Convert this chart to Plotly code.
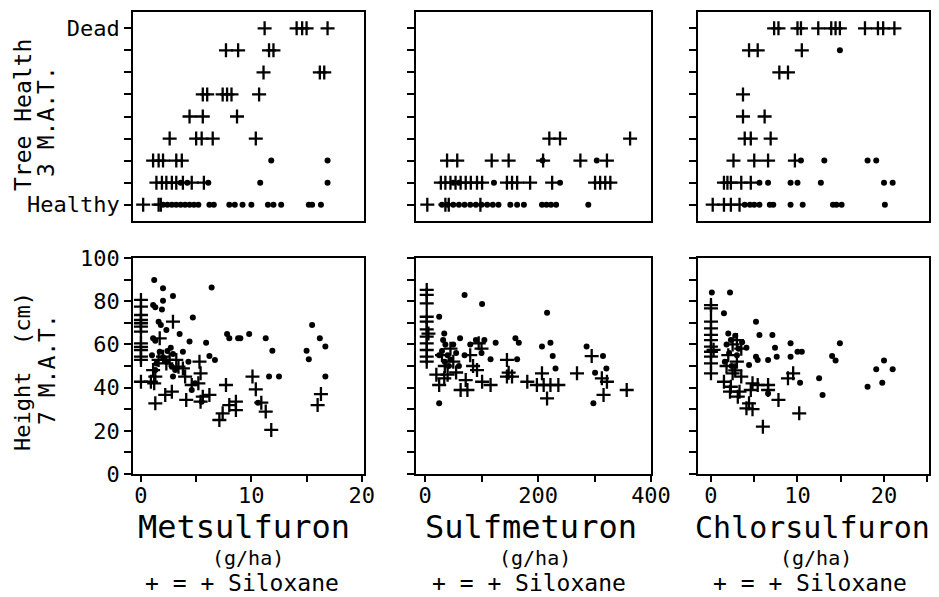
import plotly.graph_objects as go

# ---------------- DATA ----------------
herbicides = ["Metsulfuron", "Sulfmeturon", "Chlorsulfuron"]
health_labels = ["Healthy", "", "", "", "", "", "", "", "Dead"]

# Tree health 3 M.A.T. (0 = Healthy ... 8 = Dead)
met_h_sil_x = [11.2, 14.1, 14.6, 15.0, 16.9, 7.7, 8.8, 11.6, 12.0, 11.1, 16.2, 16.6,
               5.6, 6.0, 7.4, 7.8, 8.2, 10.7, 4.4, 5.6, 8.7, 2.6, 5.0, 5.5, 6.5, 10.4,
               1.1, 1.6, 2.0, 3.2, 3.7, 1.4, 1.9, 2.3, 2.8, 3.2, 3.8, 4.6, 5.7, 0.2, 1.6, 1.8]
met_h_sil_y = [8, 8, 8, 8, 8, 7, 7, 7, 7, 6, 6, 6,
               5, 5, 5, 5, 5, 5, 4, 4, 4, 3, 3, 3, 3, 3,
               2, 2, 2, 2, 2, 1, 1, 1, 1, 1, 1, 1, 1, 0, 0, 0]
met_h_no_x = [11.8, 16.9, 3.6, 4.2, 6.1, 10.8, 16.9,
              2.0, 2.4, 2.8, 3.2, 3.6, 4.0, 4.4, 4.8, 5.2, 6.2, 6.6, 8.0, 8.5, 9.2, 10.0,
              11.5, 12.0, 12.7, 15.2, 15.5, 16.3]
met_h_no_y = [2, 2, 1, 1, 1, 1, 1,
              0, 0, 0, 0, 0, 0, 0, 0, 0, 0, 0, 0, 0, 0, 0,
              0, 0, 0, 0, 0, 0]

sul_h_sil_x = [220, 239, 363, 39, 57, 118, 148, 209, 275, 322,
               28, 36, 45, 54, 63, 72, 81, 92, 101, 145, 154, 163, 186, 225, 301, 310, 319, 328,
               4, 36, 42, 98]
sul_h_sil_y = [3, 3, 3, 2, 2, 2, 2, 2, 2, 2,
               1, 1, 1, 1, 1, 1, 1, 1, 1, 1, 1, 1, 1, 1, 1, 1, 1, 1,
               0, 0, 0, 0]
sul_h_no_x = [304, 208, 50, 60, 122, 239,
              30, 40, 50, 60, 70, 80, 90, 100, 110, 120, 130, 151, 163, 175, 207, 215, 223, 232, 289]
sul_h_no_y = [2, 2, 1, 1, 1, 1,
              0, 0, 0, 0, 0, 0, 0, 0, 0, 0, 0, 0, 0, 0, 0, 0, 0, 0, 0]

chl_h_sil_x = [7.3, 7.8, 10.0, 10.4, 12.4, 13.9, 14.4, 14.9, 17.8, 19.3, 19.9, 21.2,
               4.4, 5.4, 10.5, 7.9, 8.9, 3.7, 3.7, 6.2, 3.9, 4.6, 6.9,
               2.6, 5.0, 6.6, 9.7, 1.5, 1.9, 2.3, 3.5, 4.6, 0.2, 1.5, 2.3, 3.3]
chl_h_sil_y = [8, 8, 8, 8, 8, 8, 8, 8, 8, 8, 8, 8,
               7, 7, 7, 6, 6, 5, 4, 4, 3, 3, 3,
               2, 2, 2, 2, 1, 1, 1, 1, 1, 0, 0, 0, 0]
chl_h_no_x = [14.9, 10.4, 13.1, 18.1, 19.1, 5.6, 6.6, 9.2, 10.0, 12.7, 20.0, 21.0,
              3.9, 4.5, 5.0, 5.6, 6.8, 7.2, 9.2, 10.6, 14.1, 14.5, 15.1, 20.1]
chl_h_no_y = [7, 2, 2, 2, 2, 1, 1, 1, 1, 1, 1, 1,
              0, 0, 0, 0, 0, 0, 0, 0, 0, 0, 0, 0]

# Height (cm) 7 M.A.T.
met_ht_sil_x = [0, 0, 0, 0, 0, 0, 0, 0, 0, 0, 0, 0, 0, 0.9,
                2.9, 1.7, 1.1, 1.3, 1.2, 1.3, 1.6, 2.0, 2.3, 2.6, 3.2, 3.4, 3.8, 4.0,
                2.2, 2.8, 4.1, 4.6, 5.3, 5.4, 5.2, 5.4, 5.6, 6.2, 7.7, 7.4, 7.1,
                8.0, 8.6, 8.6, 10.1, 10.4, 10.9, 11.3, 11.8, 16.3, 16.0]
met_ht_sil_y = [80.6, 77.5, 73.6, 71.3, 69.8, 68.2, 65.9, 60.5, 58.9, 57.4, 54.3, 52.8, 42.7, 42.7,
                70.5, 62.8, 48.1, 45.1, 42.0, 32.7, 52.8, 54.3, 51.2, 52.8, 52.8, 49.7, 48.9, 45.1,
                36.6, 38.1, 34.3, 41.2, 52.0, 46.6, 42.0, 33.5, 35.8, 36.6, 41.2, 28.1, 25.0,
                31.9, 33.5, 29.6, 45.1, 39.2, 33.0, 28.9, 20.4, 37.0, 31.9]
met_ht_no_x = [1.2, 2.0, 2.0, 2.9, 1.1, 1.3, 1.9, 6.4, 4.7, 1.6, 1.8, 2.3, 3.5, 1.1, 1.3,
               4.4, 5.9, 7.8, 8.0, 8.8, 9.0, 9.8, 11.3, 11.9, 15.5, 16.2, 16.7, 15.0, 15.2,
               16.7, 11.6, 12.5, 10.6, 6.2, 6.7, 3.8, 4.3, 2.7, 2.9, 2.0, 2.3, 2.8, 3.1,
               1.7, 4.6, 4.9, 5.5, 1.4, 1.3, 2.9, 1.0, 2.4]
met_ht_no_y = [89.8, 86.0, 80.2, 82.4, 78.2, 77.2, 76.2, 86.4, 72.5, 70.5, 69.0, 66.7, 64.8, 62.8, 61.7,
               61.3, 60.8, 64.8, 62.8, 62.8, 62.8, 64.8, 62.8, 57.1, 69.0, 62.8, 59.0, 57.1, 53.1,
               45.1, 45.1, 45.1, 33.0, 54.6, 52.8, 56.6, 52.0, 58.5, 55.6, 54.0, 52.0, 49.7, 48.1,
               56.6, 38.9, 42.0, 33.5, 51.2, 48.1, 45.1, 55.0, 57.0]

sul_ht_sil_x = [3, 3, 3, 3, 3, 3, 3, 3, 3, 3, 3, 6,
                25, 34, 30, 35, 45, 50, 55, 63, 75, 72, 92, 95, 101, 116, 80, 85, 100,
                145, 148, 145, 154, 181, 207, 198, 210, 222, 236, 216, 269, 295, 313, 322,
                316, 357, 20, 40]
sul_ht_sil_y = [85.2, 82.9, 79.0, 72.8, 70.5, 67.0, 63.6, 60.5, 57.4, 54.3, 52.0, 65.0,
                41.2, 44.3, 55.0, 50.0, 58.0, 52.0, 47.0, 38.9, 38.9, 43.5, 48.1, 60.5, 42.7, 41.2, 55.0, 50.0, 58.0,
                52.8, 46.9, 45.1, 45.1, 42.7, 46.6, 41.2, 41.2, 41.2, 41.2, 35.0, 46.6, 54.6, 44.3, 42.7,
                36.6, 38.9, 46.0, 46.0]
sul_ht_no_x = [25, 70, 101, 216, 25, 298, 125, 116, 160, 166, 163, 207, 222, 226, 231, 286,
               315, 301, 321, 62, 34, 32, 36, 30, 40, 45, 25, 50, 55, 35, 42, 60, 70, 80, 90, 100, 105]
sul_ht_no_y = [72.8, 82.9, 78.7, 74.7, 32.7, 32.7, 60.8, 53.1, 62.8, 60.8, 53.1, 59.0, 60.8, 54.6, 48.9, 59.0,
               54.6, 46.9, 48.9, 62.8, 65.0, 62.0, 60.0, 57.0, 55.0, 53.0, 55.0, 60.0, 56.0, 52.0, 50.0,
               50.0, 55.0, 60.0, 62.0, 56.0, 62.0]

chl_ht_sil_x = [0, 0, 0, 0, 0, 0, 0, 0, 0, 0, 0, 0.3,
                1.5, 2.3, 2.2, 3.5, 3.3, 3.1, 4.8, 4.6, 4.1, 4.8, 4.4, 6.0, 6.6, 6.6,
                7.8, 8.9, 9.5, 10.2, 2.5, 5.4, 2.0, 2.5, 3.0, 3.5, 1.8, 3.0, 2.8]
chl_ht_sil_y = [78.2, 76.7, 70.5, 67.4, 64.4, 62.0, 59.0, 56.6, 54.3, 51.2, 46.6, 57.5,
                42.7, 40.4, 38.1, 45.1, 38.1, 35.8, 42.0, 38.9, 30.4, 30.0, 32.7, 21.9, 41.2, 38.9,
                34.3, 44.3, 46.6, 28.1, 46.6, 41.2, 55.0, 60.0, 52.0, 58.0, 50.0, 62.0, 48.0]
chl_ht_no_x = [0.1, 2.2, 1.5, 5.2, 5.6, 7.1, 7.4, 7.6, 9.2, 9.2, 10.0, 10.5, 6.6, 5.2, 5.4,
               4.1, 4.4, 14.9, 14.0, 14.4, 12.5, 12.9, 10.3, 18.1, 19.1, 20.0, 21.0, 19.8,
               6.6, 1.8, 2.0, 2.3, 2.8, 3.2, 1.6, 2.4, 3.0, 3.6, 2.1]
chl_ht_no_y = [84.0, 84.0, 74.4, 70.5, 64.4, 64.4, 58.5, 54.3, 60.5, 54.3, 56.6, 56.6, 52.8, 54.3, 52.8,
               58.5, 50.5, 60.5, 54.6, 52.5, 44.3, 36.6, 42.3, 40.4, 48.5, 52.5, 48.5, 42.3,
               37.3, 60.0, 65.0, 62.0, 64.0, 58.0, 52.0, 50.0, 55.0, 61.0, 56.0]

x_ranges = [[-0.72, 20.2], [-16, 400], [-1.5, 25.2]]
x_tickvals = [[0, 5, 10, 15, 20], [0, 100, 200, 300, 400], [0, 5, 10, 15, 20, 25]]
x_ticktext = [["0", "", "10", "", "20"], ["0", "", "200", "", "400"], ["0", "", "10", "", "20", ""]]
ht_tickvals = [0, 10, 20, 30, 40, 50, 60, 70, 80, 90, 100]
ht_ticktext = ["0", "", "20", "", "40", "", "60", "", "80", "", "100"]

# ---------------- FIGURE ----------------
# page body has an 8px margin: the figure is sized to fit the window and
# positions below are given in window pixels, then offset by that margin
OFF = 8
W, H = 939 - OFF, 597 - OFF
FONT = "DejaVu Sans Mono"
cols = [(133, 364), (416, 651), (698, 929)]
top_rows = (12, 221)
bot_rows = (258, 474)

def dom_x(c):
    return [(c[0] - OFF) / W, (c[1] - OFF) / W]

def dom_y(r):
    return [1 - (r[1] - OFF) / H, 1 - (r[0] - OFF) / H]

fig = go.Figure()

health = [(met_h_sil_x, met_h_sil_y, met_h_no_x, met_h_no_y),
          (sul_h_sil_x, sul_h_sil_y, sul_h_no_x, sul_h_no_y),
          (chl_h_sil_x, chl_h_sil_y, chl_h_no_x, chl_h_no_y)]
height = [(met_ht_sil_x, met_ht_sil_y, met_ht_no_x, met_ht_no_y),
          (sul_ht_sil_x, sul_ht_sil_y, sul_ht_no_x, sul_ht_no_y),
          (chl_ht_sil_x, chl_ht_sil_y, chl_ht_no_x, chl_ht_no_y)]

cross = dict(symbol="cross-thin", size=10, line=dict(color="black", width=2.3))
dot = dict(symbol="circle", size=6, color="black", line=dict(width=0))

layout = {}
for i in range(3):
    for j, (data, rows) in enumerate([(health[i], top_rows), (height[i], bot_rows)]):
        n = i * 2 + j + 1
        xa = "x" if n == 1 else f"x{n}"
        ya = "y" if n == 1 else f"y{n}"
        sx, sy, nx, ny = data
        fig.add_trace(go.Scatter(x=nx, y=ny, mode="markers", marker=dot,
                                 xaxis=xa, yaxis=ya, showlegend=False, hoverinfo="skip"))
        fig.add_trace(go.Scatter(x=sx, y=sy, mode="markers", marker=cross,
                                 xaxis=xa, yaxis=ya, showlegend=False, hoverinfo="skip"))
        xkey = "xaxis" if n == 1 else f"xaxis{n}"
        ykey = "yaxis" if n == 1 else f"yaxis{n}"
        xd = dict(domain=dom_x(cols[i]), range=x_ranges[i], anchor=ya,
                  showline=True, linecolor="black", linewidth=1.6, mirror=True,
                  showgrid=False, zeroline=False, fixedrange=True, automargin=False)
        if j == 0:
            xd.update(ticks="", showticklabels=False)
        else:
            xd.update(ticks="outside", ticklen=6, tickwidth=1.5, tickcolor="black",
                      tickmode="array", tickvals=x_tickvals[i], ticktext=x_ticktext[i],
                      ticklabelstandoff=-5,
                      tickfont=dict(family=FONT, size=22, color="black"))
        yd = dict(domain=dom_y(rows), anchor=xa,
                  showline=True, linecolor="black", linewidth=1.6, mirror=True,
                  showgrid=False, zeroline=False, fixedrange=True, automargin=False,
                  ticks="outside", ticklen=7, tickwidth=1.5, tickcolor="black",
                  tickfont=dict(family=FONT, size=22, color="black"))
        if j == 0:
            yd.update(range=[-0.74, 8.74], tickmode="array", tickvals=list(range(9)),
                      ticktext=health_labels)
        else:
            yd.update(range=[0, 100], tickmode="array", tickvals=ht_tickvals,
                      ticktext=ht_ticktext)
        if i > 0:
            yd.update(showticklabels=False)
        layout[xkey] = xd
        layout[ykey] = yd

fig.update_layout(**layout)

ann = []
def add_text(text, x, y, size, angle=0):
    ann.append(dict(text=text, x=(x - OFF) / W, y=1 - (y - OFF) / H,
                    xref="paper", yref="paper", borderpad=0,
                    showarrow=False, textangle=angle, xanchor="center", yanchor="middle",
                    font=dict(family=FONT, size=size, color="black")))

add_text("Tree Health", 23, 115, 23, -90)
add_text("3 M.A.T.", 46, 122, 23, -90)
add_text("Height\u00a0\u00a0(cm)", 23, 372, 22, -90)
add_text("7 M.A.T.", 47, 370, 23, -90)

centers = [244, 531, 812]
title_sizes = [32, 32, 30]
for c, name, fs in zip(centers, herbicides, title_sizes):
    add_text(name, c, 527, fs)
    add_text("(g/ha)", c + 4, 558, 20)
    add_text("+ = + Siloxane", c - 2, 583, 23)

fig.update_layout(width=W, height=H,
                  margin=dict(l=0, r=0, t=0, b=0, pad=0, autoexpand=False),
                  paper_bgcolor="white", plot_bgcolor="white", annotations=ann)

fig.write_html("out.html")
